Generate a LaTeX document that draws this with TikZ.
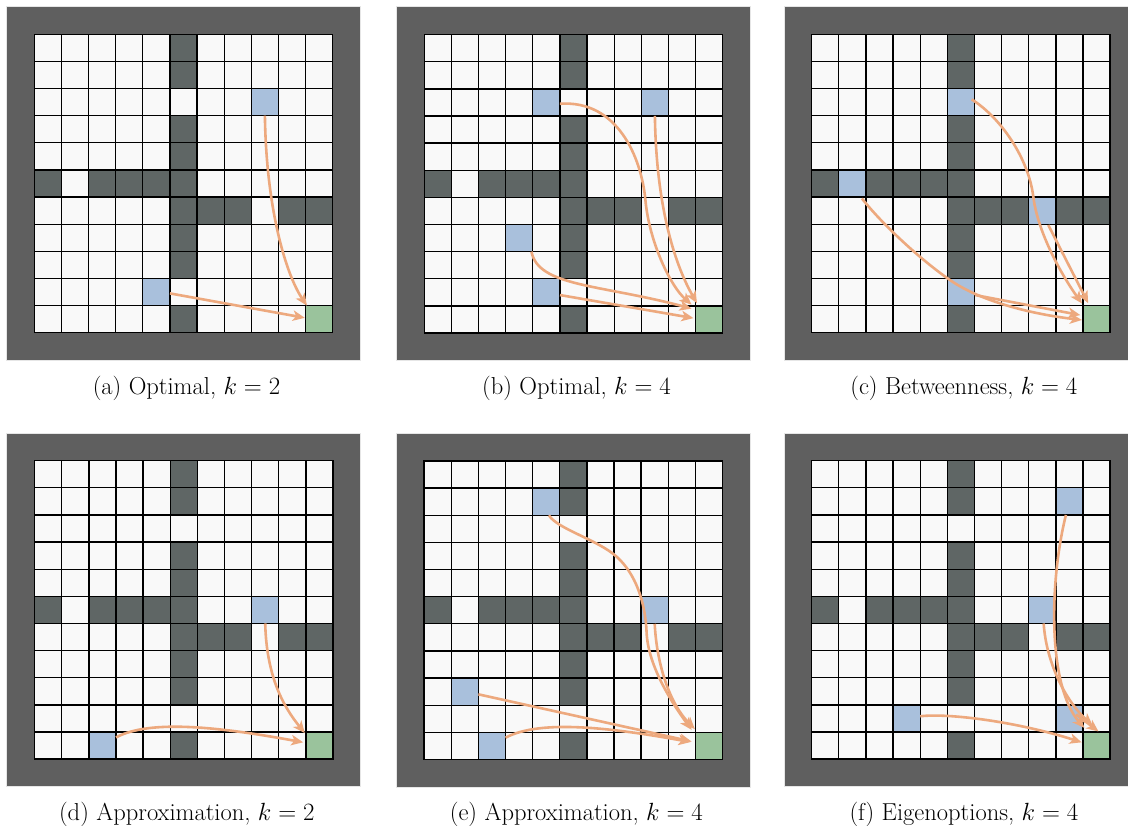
\documentclass[tikz,border=0pt]{standalone}
\usetikzlibrary{arrows.meta,calc}
\definecolor{frameC}{HTML}{5F5F5F}
\definecolor{wallC}{HTML}{5F6665}
\definecolor{floorC}{HTML}{F9F9F9}
\definecolor{subC}{HTML}{A9C0DC}
\definecolor{goalC}{HTML}{9AC39C}
\definecolor{arrC}{HTML}{EDA97E}
\definecolor{edgeC}{HTML}{E6E6E6}
\tikzset{
  subbox/.style={rectangle, fill=subC, draw=none, minimum size=27.13pt, inner sep=0pt},
  goalbox/.style={rectangle, fill=goalC, draw=none, minimum size=27.13pt, inner sep=0pt},
  optarrow/.style={draw=arrC, line width=2.6pt, -{Stealth[length=12pt,width=10.5pt,inset=3.2pt]}},
  gridline/.style={draw=black, line width=1.3pt, line cap=rect},
  captext/.style={inner sep=0pt, anchor=base, font=\fontsize{24.5}{28}\selectfont}
}
\newcommand\roomsbase{%
  \draw[edgeC, line width=1pt] (-1.02,-1.02) rectangle (12.02,12.02);
  \fill[frameC] (-1,-1) rectangle (12,12);
  \fill[floorC] (0,0) rectangle (11,11);
  \foreach \r in {0,1,3,4,5,6,7,8,10} {\fill[wallC] (5,\r) rectangle (6,\r+1);}
  \foreach \c in {0,2,3,4} {\fill[wallC] (\c,5) rectangle (\c+1,6);}
  \foreach \c in {6,7,9,10} {\fill[wallC] (\c,6) rectangle (\c+1,7);}
}
\newcommand\roomsgrid{%
  \foreach \i in {0,...,11} {\draw[gridline] (\i,0) -- (\i,11); \draw[gridline] (0,\i) -- (11,\i);}
}
\begin{document}
\begin{tikzpicture}[x=1pt,y=-1pt]
\useasboundingbox (0,0) rectangle (1128,826);
\clip (0,0) rectangle (1128,826);
\fill[white] (0,0) rectangle (1128,826);

% (a)
\begin{scope}[shift={(34.3pt,-34.3pt)},x=27.13pt,y=-27.13pt]
  \roomsbase
  \node[subbox] (a1) at (8.5,2.5) {};
  \node[subbox] (a2) at (4.5,9.5) {};
  \node[goalbox] (ag) at (10.5,10.5) {};
  \roomsgrid
  \draw[optarrow] ($(a1.center)+(0,0.5)$) .. controls (8.55,6.5) and (9.3,8.9) .. ($(ag.center)+(-0.45,-0.5)$);
  \draw[optarrow] ($(a2.center)+(0.5,0.05)$) -- ($(ag.center)+(-0.53,-0.05)$);
\end{scope}
\node[captext] (capa) at (186.5,394.5) {(a) Optimal, $k=2$};

% (b)
\begin{scope}[shift={(424.3pt,-34.6pt)},x=27.13pt,y=-27.13pt]
  \roomsbase
  \node[subbox] (b1) at (4.5,2.5) {};
  \node[subbox] (b2) at (8.5,2.5) {};
  \node[subbox] (b3) at (3.5,7.5) {};
  \node[subbox] (b4) at (4.5,9.5) {};
  \node[goalbox] (bg) at (10.5,10.5) {};
  \roomsgrid
  \draw[optarrow] ($(b1.center)+(0.5,0.05)$) .. controls (7.1,2.4) and (8.0,4.5) .. (8.15,6.1)
     .. controls (8.3,7.7) and (9.1,9.3) .. ($(bg.center)+(-0.65,-0.55)$);
  \draw[optarrow] ($(b2.center)+(0,0.5)$) .. controls (8.55,6.5) and (9.3,8.6) .. ($(bg.center)+(-0.45,-0.6)$);
  \draw[optarrow] ($(b3.center)+(0.45,0.5)$) .. controls (4.2,9.3) and (6.5,9.2) .. ($(bg.center)+(-0.65,-0.4)$);
  \draw[optarrow] ($(b4.center)+(0.5,0.1)$) -- ($(bg.center)+(-0.58,-0.05)$);
\end{scope}
\node[captext] (capb) at (576.5,394.5) {(b) Optimal, $k=4$};

% (c)
\begin{scope}[shift={(811.7pt,-34.3pt)},x=27.13pt,y=-27.13pt]
  \roomsbase
  \node[subbox] (c1) at (5.5,2.5) {};
  \node[subbox] (c2) at (1.5,5.5) {};
  \node[subbox] (c3) at (8.5,6.5) {};
  \node[subbox] (c4) at (5.5,9.5) {};
  \node[goalbox] (cg) at (10.5,10.5) {};
  \roomsgrid
  \draw[optarrow] ($(c1.center)+(0.4,-0.1)$) .. controls (7.0,3.1) and (8.0,4.6) .. (8.17,6.0)
     .. controls (8.35,7.4) and (9.3,9.0) .. ($(cg.center)+(-0.54,-0.58)$);
  \draw[optarrow] ($(c3.center)+(0.22,0.53)$) -- ($(cg.center)+(-0.31,-0.59)$);
  \draw[optarrow] ($(c2.center)+(0.35,0.55)$) .. controls (2.6,7.0) and (4.0,8.3) .. (5.1,9.06)
     .. controls (6.2,9.82) and (8.0,10.3) .. ($(cg.center)+(-0.54,0.03)$);
  \draw[optarrow] ($(c4.center)+(0.52,0.11)$) -- ($(cg.center)+(-0.6,-0.15)$);
\end{scope}
\node[captext] (capc) at (963.9,394.5) {(c) Betweenness, $k=4$};

% (d)
\begin{scope}[shift={(34.6pt,-460.7pt)},x=27.13pt,y=-27.13pt]
  \roomsbase
  \node[subbox] (d1) at (8.5,5.5) {};
  \node[subbox] (d2) at (2.5,10.5) {};
  \node[goalbox] (dg) at (10.5,10.5) {};
  \roomsgrid
  \draw[optarrow] ($(d1.center)+(0,0.5)$) .. controls (8.55,8.0) and (9.2,9.1) .. ($(dg.center)+(-0.54,-0.46)$);
  \draw[optarrow] ($(d2.center)+(0.5,-0.3)$) .. controls (4.3,9.5) and (7.0,9.85) .. ($(dg.center)+(-0.6,-0.12)$);
\end{scope}
\node[captext] (capd) at (186.8,820) {(d) Approximation, $k=2$};

% (e)
\begin{scope}[shift={(424.1pt,-461pt)},x=27.13pt,y=-27.13pt]
  \roomsbase
  \node[subbox] (e1) at (4.5,1.5) {};
  \node[subbox] (e2) at (8.5,5.5) {};
  \node[subbox] (e3) at (1.5,8.5) {};
  \node[subbox] (e4) at (2.5,10.5) {};
  \node[goalbox] (eg) at (10.5,10.5) {};
  \roomsgrid
  \draw[optarrow] ($(e1.center)+(0.1,0.5)$) .. controls (4.9,2.5) and (6.4,2.9) .. (7.1,3.53)
     .. controls (7.8,4.16) and (8.15,5.2) .. (8.2,6.3)
     .. controls (8.25,7.6) and (9.2,9.0) .. ($(eg.center)+(-0.64,-0.59)$);
  \draw[optarrow] ($(e2.center)+(0,0.5)$) .. controls (8.58,7.6) and (9.1,9.0) .. ($(eg.center)+(-0.52,-0.62)$);
  \draw[optarrow] ($(e3.center)+(0.5,0.1)$) -- ($(eg.center)+(-0.64,-0.16)$);
  \draw[optarrow] ($(e4.center)+(0.5,-0.3)$) .. controls (4.3,9.5) and (7.0,9.85) .. ($(eg.center)+(-0.68,-0.14)$);
\end{scope}
\node[captext] (cape) at (576.3,820) {(e) Approximation, $k=4$};

% (f)
\begin{scope}[shift={(811.7pt,-460.7pt)},x=27.13pt,y=-27.13pt]
  \roomsbase
  \node[subbox] (f1) at (9.5,1.5) {};
  \node[subbox] (f2) at (8.5,5.5) {};
  \node[subbox] (f3) at (3.5,9.5) {};
  \node[subbox] (f4) at (9.5,9.5) {};
  \node[goalbox] (fg) at (10.5,10.5) {};
  \roomsgrid
  \draw[optarrow] ($(f1.center)+(-0.13,0.5)$) .. controls (8.75,4.5) and (8.7,8.3) .. ($(fg.center)+(-0.45,-0.65)$);
  \draw[optarrow] ($(f2.center)+(0.05,0.5)$) .. controls (8.65,7.5) and (9.4,8.9) .. ($(fg.center)+(-0.15,-0.75)$);
  \draw[optarrow] ($(f4.center)+(0.25,-0.15)$) -- ($(fg.center)+(0.07,-0.52)$);
  \draw[optarrow] ($(f3.center)+(0.5,-0.08)$) .. controls (5.0,9.3) and (7.5,9.6) .. ($(fg.center)+(-0.55,-0.12)$);
\end{scope}
\node[captext] (capf) at (963.9,820) {(f) Eigenoptions, $k=4$};
\end{tikzpicture}
\end{document}
